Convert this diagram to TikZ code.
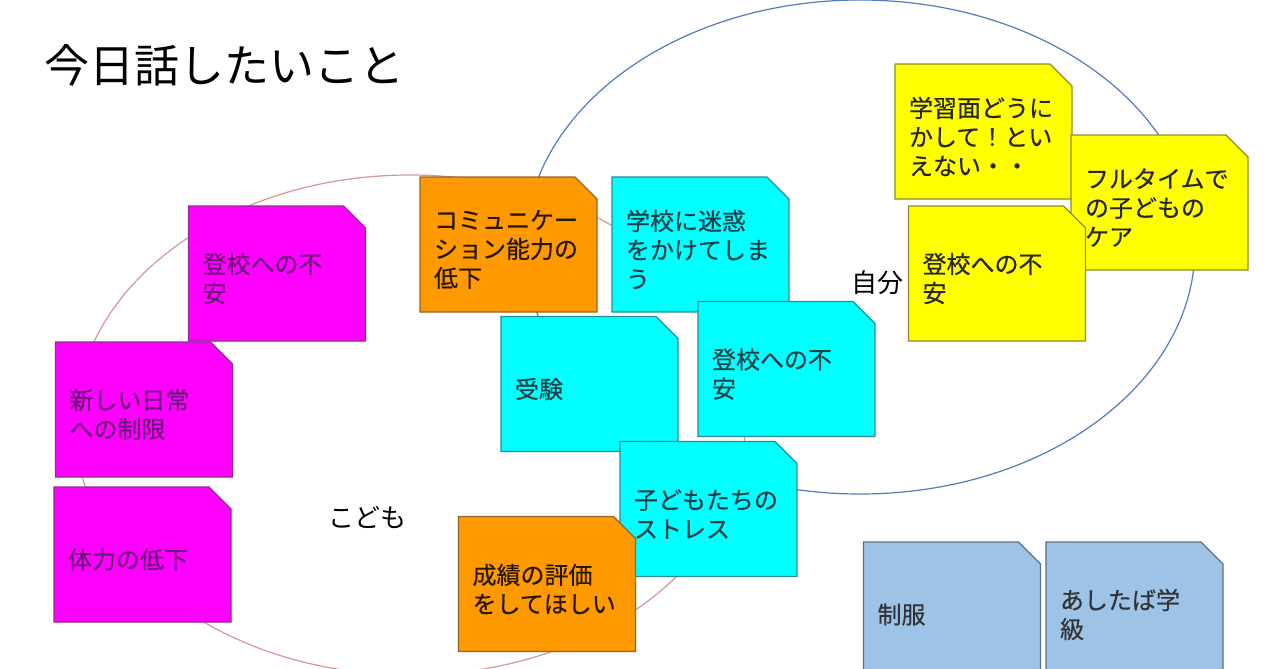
\documentclass[tikz,border=0pt]{standalone}
\usepackage{fontspec}
\setmainfont{Noto Sans CJK JP}
\newfontfamily\notefont[FakeBold=0.4]{Noto Sans CJK JP}
\definecolor{colP}{RGB}{255,0,255}
\definecolor{colPd}{RGB}{150,40,150}
\definecolor{colPt}{RGB}{110,20,120}
\definecolor{colO}{RGB}{255,153,0}
\definecolor{colOd}{RGB}{150,100,40}
\definecolor{colC}{RGB}{0,255,255}
\definecolor{colCd}{RGB}{40,140,150}
\definecolor{colCt}{RGB}{25,65,70}
\definecolor{colY}{RGB}{255,255,0}
\definecolor{colYd}{RGB}{140,140,40}
\definecolor{colB}{RGB}{157,195,230}
\definecolor{colBd}{RGB}{95,110,135}
\definecolor{ringK}{RGB}{215,150,150}
\definecolor{ringJ}{RGB}{80,125,185}

% sticky note: name, x, y, colour style, text
\newcommand{\stickynote}[5]{%
  \begin{scope}[shift={(#2,#3)}]
    \filldraw[#4, line width=1.2pt] (-88.5,-67.5) -- (66.5,-67.5) -- (88.5,-45.5)
      -- (88.5,67.5) -- (-88.5,67.5) -- cycle;
  \end{scope}
  \node[#4, notetext] (#1) at (#2,#3+5) {#5};}

\begin{document}
\begin{tikzpicture}[
    x=1pt, y=-1pt,
    notetext/.style={draw=none, fill=none, inner sep=0pt, text width=149pt,
      align=left, font=\notefont\fontsize{24}{29}\selectfont},
    pinknote/.style={fill=colP, draw=colPd, text=colPt},
    orangenote/.style={fill=colO, draw=colOd, text=black!85!colO},
    cyannote/.style={fill=colC, draw=colCd, text=colCt},
    yellownote/.style={fill=colY, draw=colYd, text=black!85},
    bluenote/.style={fill=colB, draw=colBd, text=black!80},
    ringlabel/.style={font=\fontsize{26}{30}\selectfont, inner sep=0pt},
  ]

  \clip (0,0) rectangle (1280,669);
  \fill[white] (0,0) rectangle (1280,669);

  % ---- the two groups ---------------------------------------------------
  \draw[ringK, line width=1.2pt] (410,425) ellipse [x radius=335pt, y radius=250pt];
  \draw[ringJ, line width=1.2pt] (860,247) ellipse [x radius=335pt, y radius=247pt];

  % ---- title and group labels -------------------------------------------
  \node[anchor=west, inner sep=0pt, font=\fontsize{45}{50}\selectfont] (title) at (44,65) {今日話したいこと};
  \node[ringlabel] (kodomo) at (367,517) {こども};
  \node[ringlabel] (jibun) at (877,283) {自分};

  % ---- children only ----------------------------------------------------
  \stickynote{p1}{277}{273.5}{pinknote}{登校への不\\安}
  \stickynote{p2}{144}{409.5}{pinknote}{新しい日常\\への制限}
  \stickynote{p3}{142.5}{554.5}{pinknote}{体力の低下}

  % ---- children, partly both --------------------------------------------
  \stickynote{o1}{508.5}{244.5}{orangenote}{コミュニケー\\ション能力の\\低下}
  \stickynote{c1}{700.5}{244.5}{cyannote}{学校に迷惑\\をかけてしま\\う}
  \stickynote{c2}{589.5}{384}{cyannote}{受験}
  \stickynote{c3}{786.5}{369}{cyannote}{登校への不\\安}
  \stickynote{c4}{708.5}{509}{cyannote}{子どもたちの\\ストレス}
  \stickynote{o2}{547}{584}{orangenote}{成績の評価\\をしてほしい}

  % ---- myself -----------------------------------------------------------
  \stickynote{y1}{983.5}{131.5}{yellownote}{学習面どうに\\かして！とい\\えない・・}
  \stickynote{y2}{1159.5}{202.5}{yellownote}{フルタイムで\\の子どもの\\ケア}
  \stickynote{y3}{997}{273.5}{yellownote}{登校への不\\安}

  % ---- outside both -----------------------------------------------------
  \stickynote{b1}{952}{609.5}{bluenote}{制服}
  \stickynote{b2}{1134.5}{609.5}{bluenote}{あしたば学\\級}

\end{tikzpicture}
\end{document}
